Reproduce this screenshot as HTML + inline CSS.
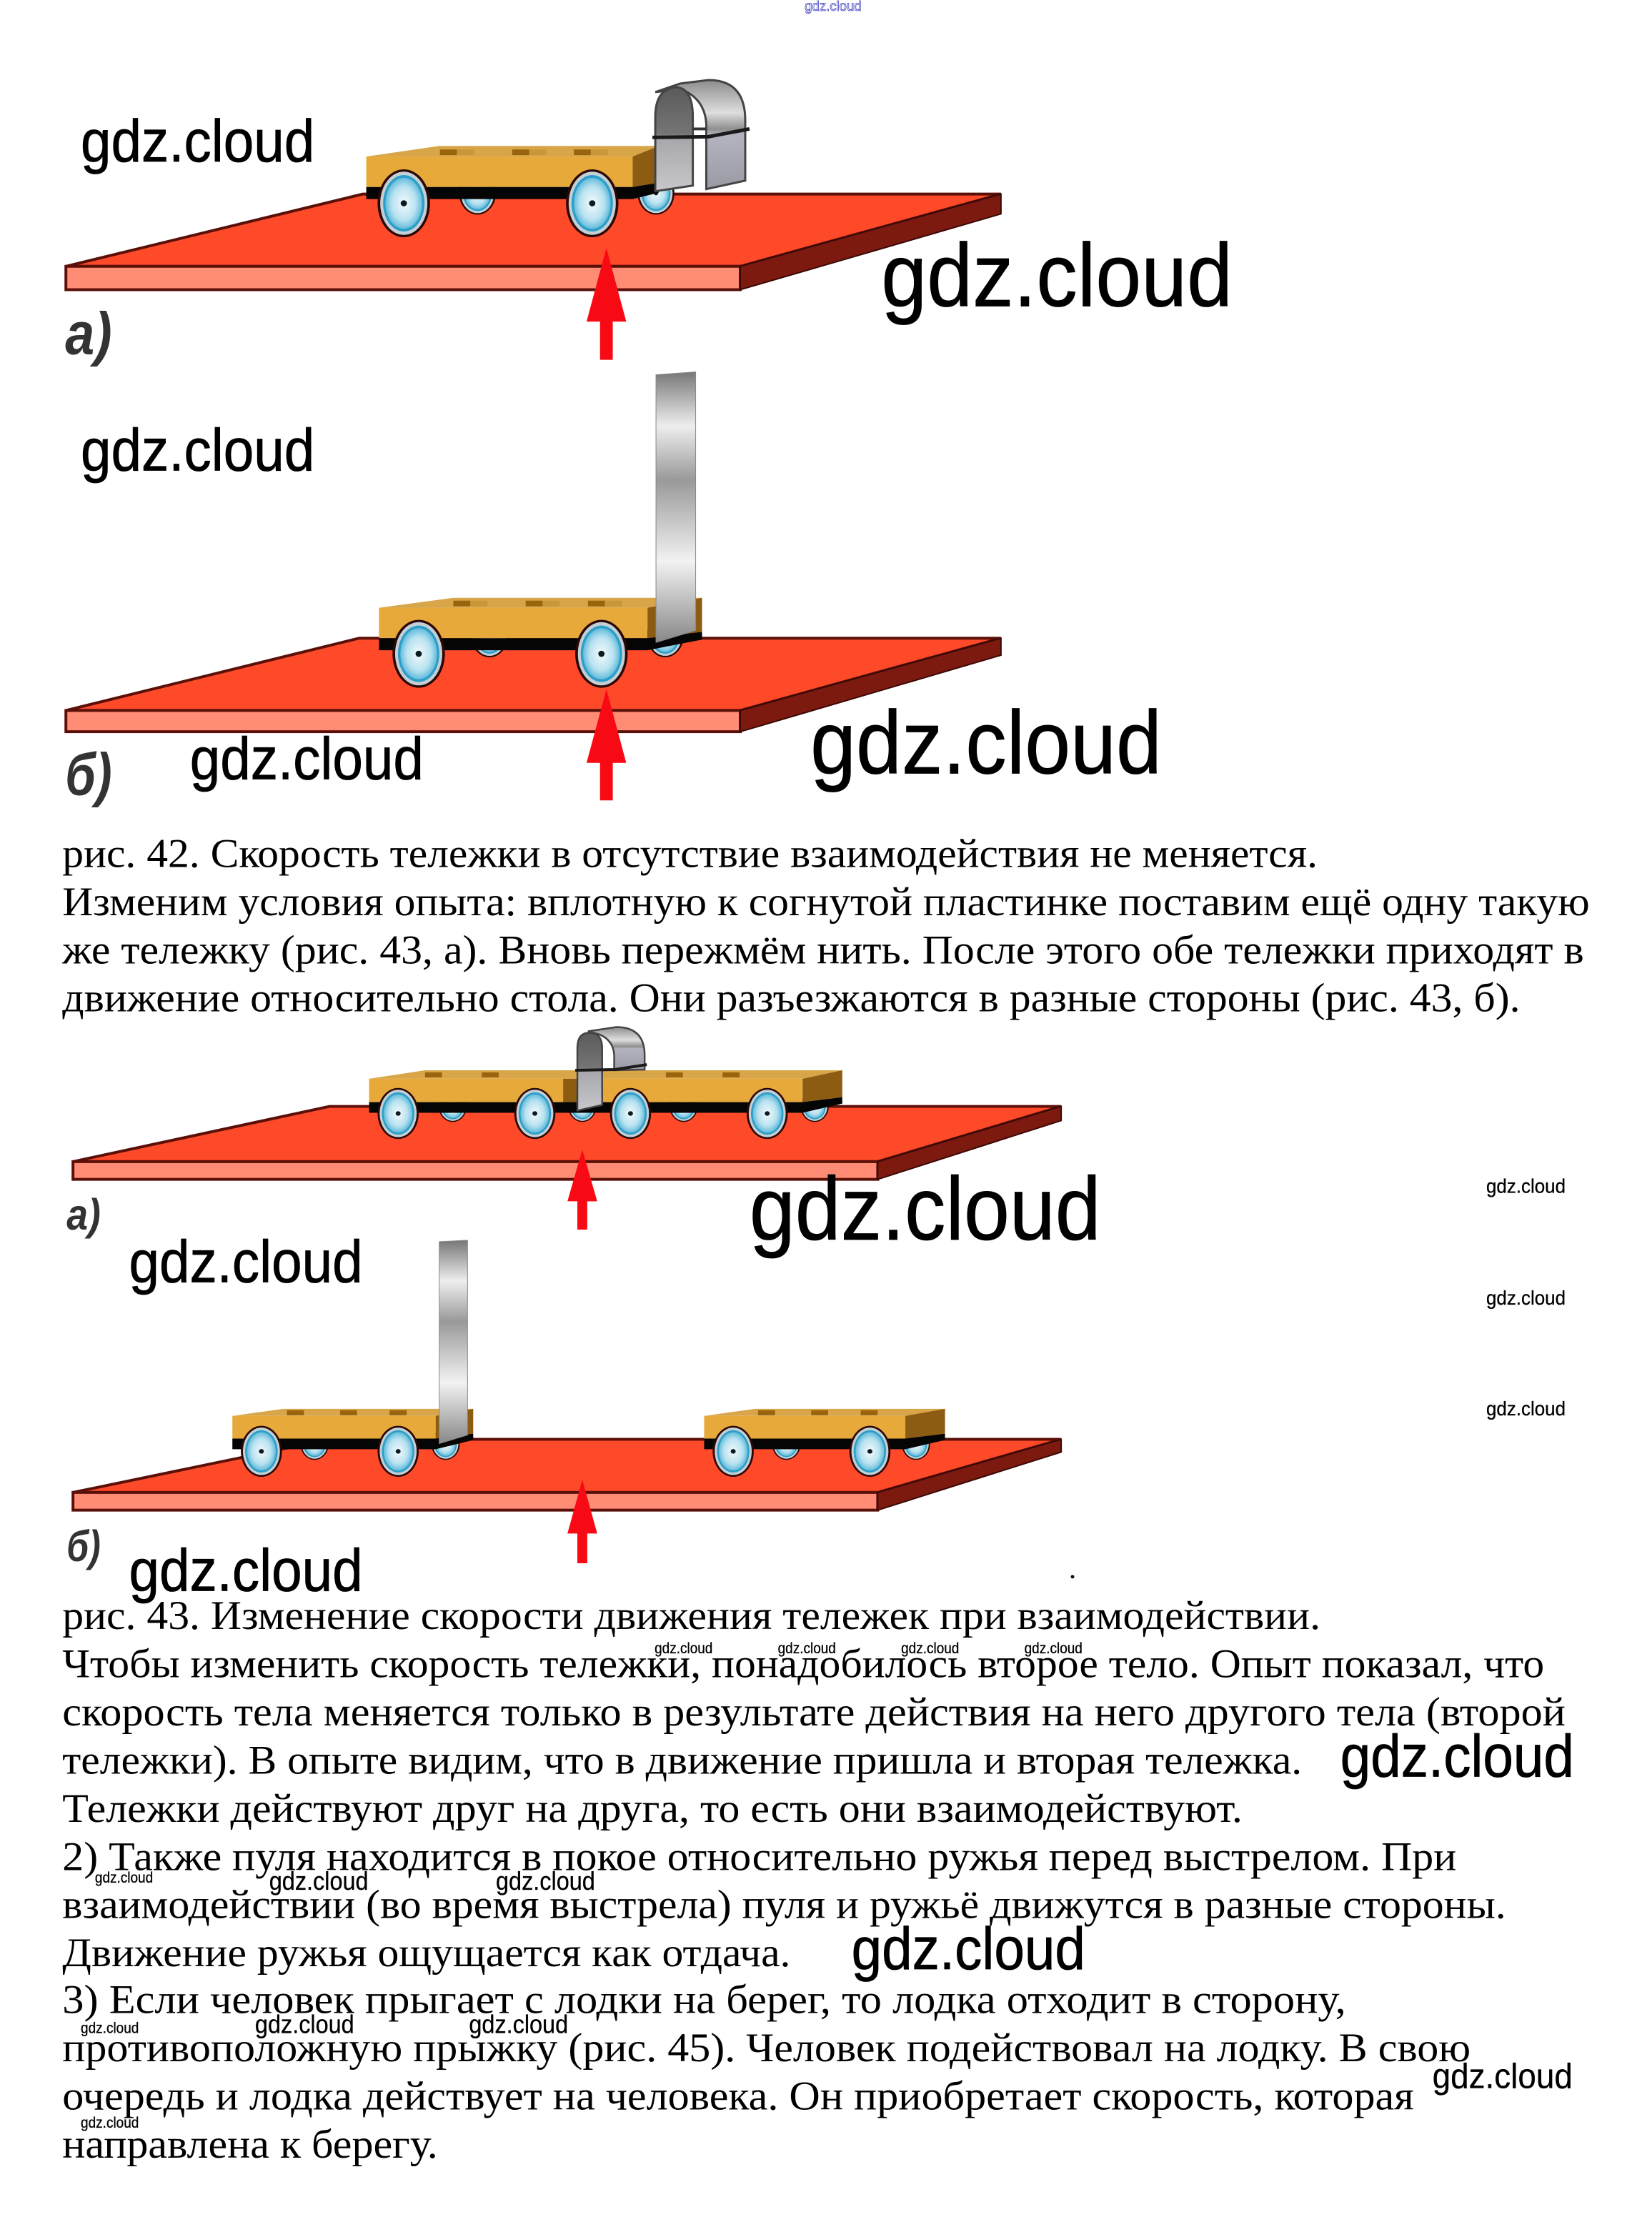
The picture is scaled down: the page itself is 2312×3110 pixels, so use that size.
<!DOCTYPE html>
<html lang="ru"><head><meta charset="utf-8"><title>рис. 42-43</title>
<style>
html,body{margin:0;padding:0;background:#fff}
svg{display:block}
.t{font-family:"Liberation Serif",serif;font-size:58px;fill:#000}
.w{font-family:"Liberation Sans",sans-serif;fill:#000;stroke:#000;stroke-width:.8}
.l{font-family:"Liberation Sans",sans-serif;font-style:italic;font-weight:bold;fill:#333}
</style></head><body>
<svg xmlns="http://www.w3.org/2000/svg" width="2312" height="3110" viewBox="0 0 2332 3137">
<defs>
<radialGradient id="wg" cx=".5" cy=".5" r=".6"><stop offset="0" stop-color="#f4fafc"/><stop offset=".55" stop-color="#b8e2f0"/><stop offset="1" stop-color="#35a6cf"/></radialGradient>
<linearGradient id="sv" x1="0" y1="0" x2="0" y2="1"><stop offset="0" stop-color="#777"/><stop offset=".2" stop-color="#eee"/><stop offset=".4" stop-color="#999"/><stop offset=".7" stop-color="#f2f2f2"/><stop offset="1" stop-color="#888"/></linearGradient>
<linearGradient id="a1" x1="0" y1="0" x2="0" y2="1"><stop offset="0" stop-color="#5a5a5a"/><stop offset=".45" stop-color="#757575"/><stop offset=".5" stop-color="#a8a8ac"/><stop offset="1" stop-color="#c8c8cc"/></linearGradient>
<linearGradient id="a2" x1="0" y1="0" x2="0" y2="1"><stop offset="0" stop-color="#8c8c8c"/><stop offset=".3" stop-color="#dedede"/><stop offset=".45" stop-color="#8e8e8e"/><stop offset=".5" stop-color="#b4b4c0"/><stop offset="1" stop-color="#9a9aa4"/></linearGradient>
<g id="wh"><ellipse rx="1" ry="1" fill="#2a0808"/><ellipse rx=".9" ry=".93" fill="#c6d0d4"/><ellipse rx=".79" ry=".83" fill="#2b9fc9"/><ellipse rx=".7" ry=".75" fill="url(#wg)"/><ellipse rx=".12" ry=".09" fill="#0a1a20"/></g>
</defs>

<!-- FIG 42a -->
<polygon points="93,376 512,274 1413,274 1045,376" fill="#ff4a2a" stroke="#5a1008" stroke-width="4"/>
<rect x="93" y="376" width="952" height="33" fill="#ff8c74" stroke="#5a1008" stroke-width="4"/>
<polygon points="1045,376 1413,274 1413,302 1045,409" fill="#7c1a10" stroke="#3a0806" stroke-width="2"/>
<use href="#wh" transform="translate(674,273) scale(26,30)"/>
<use href="#wh" transform="translate(926,273) scale(26,30)"/>
<polygon points="517,221 620,206 930,206 893,221" fill="#d8a548"/>
<rect x="621" y="211" width="24" height="8" fill="#9a640e"/><rect x="645" y="211" width="24" height="8" fill="#c89838"/><rect x="723" y="211" width="24" height="8" fill="#9a640e"/><rect x="747" y="211" width="24" height="8" fill="#c89838"/><rect x="810" y="211" width="24" height="8" fill="#9a640e"/><rect x="834" y="211" width="24" height="8" fill="#c89838"/>
<rect x="517" y="221" width="376" height="43" fill="#e6a93a"/>
<polygon points="893,221 930,206 930,258 893,264" fill="#8c5c12"/>
<polygon points="517,264 893,264 930,258 930,272 893,281 517,281" fill="#050505"/>
<use href="#wh" transform="translate(570,287) scale(37,48)"/>
<use href="#wh" transform="translate(836,287) scale(37,48)"/>
<path d="M997,267 L997,175 Q995,140 962,126 L925,130 L960,118 L1000,113 Q1052,113 1052,170 L1052,255 Z" fill="url(#a2)" stroke="#444" stroke-width="3"/>
<path d="M925,270 L925,165 Q925,125 955,123 Q978,125 978,165 L978,262 Z" fill="url(#a1)" stroke="#444" stroke-width="3"/>
<path d="M921,194 L1000,193 L1058,182" fill="none" stroke="#1a1a1a" stroke-width="5"/>
<line x1="978" y1="182" x2="997" y2="182" stroke="#333" stroke-width="4"/>
<polygon points="856,350 884,454 865,454 865,508 847,508 847,454 828,454" fill="#f80a14"/>
<text class="l" x="92" y="500" font-size="84" textLength="66" lengthAdjust="spacingAndGlyphs">а)</text>

<!-- FIG 42b -->
<polygon points="93,1003 507,901 1413,901 1045,1003" fill="#ff4a2a" stroke="#5a1008" stroke-width="4"/>
<rect x="93" y="1003" width="952" height="30" fill="#ff8c74" stroke="#5a1008" stroke-width="4"/>
<polygon points="1045,1003 1413,901 1413,925 1045,1033" fill="#7c1a10" stroke="#3a0806" stroke-width="2"/>
<use href="#wh" transform="translate(691,898) scale(26,30)"/>
<use href="#wh" transform="translate(939,898) scale(26,30)"/>
<polygon points="535,858 640,844 991,844 914,858" fill="#d8a548"/>
<rect x="640" y="848" width="24" height="8" fill="#9a640e"/><rect x="664" y="848" width="24" height="8" fill="#c89838"/><rect x="742" y="848" width="24" height="8" fill="#9a640e"/><rect x="766" y="848" width="24" height="8" fill="#c89838"/><rect x="830" y="848" width="24" height="8" fill="#9a640e"/><rect x="854" y="848" width="24" height="8" fill="#c89838"/>
<rect x="535" y="858" width="379" height="43" fill="#e6a93a"/>
<polygon points="914,858 991,844 991,892 914,901" fill="#8c5c12"/>
<polygon points="535,901 914,901 991,892 991,903 914,918 535,918" fill="#050505"/>
<use href="#wh" transform="translate(591,923) scale(37,48)"/>
<use href="#wh" transform="translate(849,923) scale(37,48)"/>
<polygon points="926,529 982,525 982,890 926,907" fill="url(#sv)" stroke="#888" stroke-width="1"/>
<polygon points="856,973 884,1077 865,1077 865,1130 847,1130 847,1077 828,1077" fill="#f80a14"/>
<text class="l" x="92" y="1122" font-size="84" textLength="66" lengthAdjust="spacingAndGlyphs">б)</text>

<!-- FIG 43a -->
<polygon points="103,1640 465,1562 1498,1562 1239,1640" fill="#ff4a2a" stroke="#5a1008" stroke-width="4"/>
<rect x="103" y="1640" width="1136" height="25" fill="#ff8c74" stroke="#5a1008" stroke-width="4"/>
<polygon points="1239,1640 1498,1562 1498,1582 1239,1665" fill="#7c1a10" stroke="#3a0806" stroke-width="2"/>
<use href="#wh" transform="translate(639,1562) scale(20,22)"/>
<use href="#wh" transform="translate(822,1562) scale(20,22)"/>
<use href="#wh" transform="translate(965,1562) scale(20,22)"/>
<use href="#wh" transform="translate(1150,1562) scale(20,22)"/>
<polygon points="521,1523 600,1511 1189,1511 1133,1523" fill="#d8a548"/>
<rect x="600" y="1514" width="24" height="7" fill="#9a640e"/><rect x="680" y="1514" width="24" height="7" fill="#9a640e"/><rect x="940" y="1514" width="24" height="7" fill="#9a640e"/><rect x="1020" y="1514" width="24" height="7" fill="#9a640e"/>
<rect x="521" y="1523" width="612" height="33" fill="#e6a93a"/>
<rect x="795" y="1523" width="20" height="33" fill="#8c5c12"/>
<polygon points="1133,1523 1189,1511 1189,1549 1133,1556" fill="#8c5c12"/>
<polygon points="521,1556 1133,1556 1189,1549 1189,1558 1133,1571 521,1571" fill="#050505"/>
<path d="M867,1511 L867,1490 Q866,1468 845,1460 L830,1456 L870,1450 Q910,1450 910,1490 L910,1510 Z" fill="url(#a2)" stroke="#444" stroke-width="2.5"/>
<path d="M815,1568 L815,1480 Q815,1458 832,1458 Q850,1458 850,1480 L850,1560 Z" fill="url(#a1)" stroke="#444" stroke-width="2.5"/>
<path d="M812,1511 L868,1510 L913,1503" fill="none" stroke="#1a1a1a" stroke-width="4"/>
<use href="#wh" transform="translate(562,1572) scale(29,36)"/>
<use href="#wh" transform="translate(755,1572) scale(29,36)"/>
<use href="#wh" transform="translate(890,1572) scale(29,36)"/>
<use href="#wh" transform="translate(1083,1572) scale(29,36)"/>
<polygon points="822,1623 843,1696 829,1696 829,1736 815,1736 815,1696 801,1696" fill="#f80a14"/>
<text class="l" x="94" y="1736" font-size="62" textLength="48" lengthAdjust="spacingAndGlyphs">а)</text>

<!-- FIG 43b -->
<polygon points="103,2107 465,2032 1498,2032 1239,2107" fill="#ff4a2a" stroke="#5a1008" stroke-width="4"/>
<rect x="103" y="2107" width="1136" height="25" fill="#ff8c74" stroke="#5a1008" stroke-width="4"/>
<polygon points="1239,2107 1498,2032 1498,2050 1239,2132" fill="#7c1a10" stroke="#3a0806" stroke-width="2"/>
<use href="#wh" transform="translate(444,2039) scale(20,22)"/>
<use href="#wh" transform="translate(629,2039) scale(20,22)"/>
<use href="#wh" transform="translate(1110,2039) scale(20,22)"/>
<use href="#wh" transform="translate(1293,2039) scale(20,22)"/>
<polygon points="328,1999 400,1989 668,1989 615,1999" fill="#d8a548"/>
<rect x="405" y="1991" width="24" height="7" fill="#9a640e"/><rect x="480" y="1991" width="24" height="7" fill="#9a640e"/><rect x="550" y="1991" width="24" height="7" fill="#9a640e"/>
<rect x="328" y="1999" width="287" height="32" fill="#e6a93a"/>
<polygon points="615,1999 668,1989 668,2024 615,2031" fill="#8c5c12"/>
<polygon points="328,2031 615,2031 668,2024 668,2033 615,2046 328,2046" fill="#050505"/>
<polygon points="994,1999 1066,1989 1334,1989 1278,1999" fill="#d8a548"/>
<rect x="1070" y="1991" width="24" height="7" fill="#9a640e"/><rect x="1145" y="1991" width="24" height="7" fill="#9a640e"/><rect x="1215" y="1991" width="24" height="7" fill="#9a640e"/>
<rect x="994" y="1999" width="284" height="32" fill="#e6a93a"/>
<polygon points="1278,1999 1334,1989 1334,2024 1278,2031" fill="#8c5c12"/>
<polygon points="994,2031 1278,2031 1334,2024 1334,2033 1278,2046 994,2046" fill="#050505"/>
<use href="#wh" transform="translate(369,2049) scale(29,36)"/>
<use href="#wh" transform="translate(562,2049) scale(29,36)"/>
<use href="#wh" transform="translate(1035,2049) scale(29,36)"/>
<use href="#wh" transform="translate(1228,2049) scale(29,36)"/>
<polygon points="620,1753 660,1751 660,2026 620,2038" fill="url(#sv)" stroke="#888" stroke-width="1"/>
<polygon points="822,2089 843,2165 829,2165 829,2207 815,2207 815,2165 801,2165" fill="#f80a14"/>
<text class="l" x="94" y="2204" font-size="62" textLength="48" lengthAdjust="spacingAndGlyphs">б)</text>
<circle cx="1514" cy="2226" r="2.5" fill="#111"/>

<!-- BODY TEXT -->
<text class="t" x="88" y="1224" textLength="1772" lengthAdjust="spacingAndGlyphs">рис. 42. Скорость тележки в отсутствие взаимодействия не меняется.</text>
<text class="t" x="88" y="1292" textLength="2156" lengthAdjust="spacingAndGlyphs">Изменим условия опыта: вплотную к согнутой пластинке поставим ещё одну такую</text>
<text class="t" x="88" y="1360" textLength="2148" lengthAdjust="spacingAndGlyphs">же тележку (рис. 43, а). Вновь пережмём нить. После этого обе тележки приходят в</text>
<text class="t" x="88" y="1428" textLength="2058" lengthAdjust="spacingAndGlyphs">движение относительно стола. Они разъезжаются в разные стороны (рис. 43, б).</text>
<text class="t" x="88" y="2300" textLength="1776" lengthAdjust="spacingAndGlyphs">рис. 43. Изменение скорости движения тележек при взаимодействии.</text>
<text class="t" x="88" y="2368" textLength="2092" lengthAdjust="spacingAndGlyphs">Чтобы изменить скорость тележки, понадобилось второе тело. Опыт показал, что</text>
<text class="t" x="88" y="2436" textLength="2122" lengthAdjust="spacingAndGlyphs">скорость тела меняется только в результате действия на него другого тела (второй</text>
<text class="t" x="88" y="2504" textLength="1750" lengthAdjust="spacingAndGlyphs">тележки). В опыте видим, что в движение пришла и вторая тележка.</text>
<text class="t" x="88" y="2572" textLength="1666" lengthAdjust="spacingAndGlyphs">Тележки действуют друг на друга, то есть они взаимодействуют.</text>
<text class="t" x="88" y="2640" textLength="1968" lengthAdjust="spacingAndGlyphs">2) Также пуля находится в покое относительно ружья перед выстрелом. При</text>
<text class="t" x="88" y="2708" textLength="2038" lengthAdjust="spacingAndGlyphs">взаимодействии (во время выстрела) пуля и ружьё движутся в разные стороны.</text>
<text class="t" x="88" y="2776" textLength="1028" lengthAdjust="spacingAndGlyphs">Движение ружья ощущается как отдача.</text>
<text class="t" x="88" y="2842" textLength="1812" lengthAdjust="spacingAndGlyphs">3) Если человек прыгает с лодки на берег, то лодка отходит в сторону,</text>
<text class="t" x="88" y="2910" textLength="1988" lengthAdjust="spacingAndGlyphs">противоположную прыжку (рис. 45). Человек подействовал на лодку. В свою</text>
<text class="t" x="88" y="2978" textLength="1908" lengthAdjust="spacingAndGlyphs">очередь и лодка действует на человека. Он приобретает скорость, которая</text>
<text class="t" x="88" y="3046" textLength="530" lengthAdjust="spacingAndGlyphs">направлена к берегу.</text>

<!-- WATERMARKS -->
<text x="1136" y="15" font-family="Liberation Sans, sans-serif" font-size="20" fill="#fff" stroke="#3a3ac0" stroke-width=".8" textLength="80" lengthAdjust="spacingAndGlyphs">gdz.cloud</text>
<g class="w">
<text x="114" y="228" font-size="84" textLength="330" lengthAdjust="spacingAndGlyphs">gdz.cloud</text>
<text x="114" y="664" font-size="84" textLength="330" lengthAdjust="spacingAndGlyphs">gdz.cloud</text>
<text x="268" y="1100" font-size="84" textLength="330" lengthAdjust="spacingAndGlyphs">gdz.cloud</text>
<text x="182" y="1810" font-size="84" textLength="330" lengthAdjust="spacingAndGlyphs">gdz.cloud</text>
<text x="182" y="2246" font-size="84" textLength="330" lengthAdjust="spacingAndGlyphs">gdz.cloud</text>
<text x="1892" y="2508" font-size="84" textLength="330" lengthAdjust="spacingAndGlyphs">gdz.cloud</text>
<text x="1202" y="2780" font-size="84" textLength="330" lengthAdjust="spacingAndGlyphs">gdz.cloud</text>
<text x="1244" y="432" font-size="126" textLength="496" lengthAdjust="spacingAndGlyphs">gdz.cloud</text>
<text x="1144" y="1092" font-size="126" textLength="496" lengthAdjust="spacingAndGlyphs">gdz.cloud</text>
<text x="1058" y="1750" font-size="126" textLength="496" lengthAdjust="spacingAndGlyphs">gdz.cloud</text>
<g style="stroke-width:.3">
<text x="2098" y="1684" font-size="28" textLength="112" lengthAdjust="spacingAndGlyphs">gdz.cloud</text>
<text x="2098" y="1842" font-size="28" textLength="112" lengthAdjust="spacingAndGlyphs">gdz.cloud</text>
<text x="2098" y="1998" font-size="28" textLength="112" lengthAdjust="spacingAndGlyphs">gdz.cloud</text>
<text x="2022" y="2948" font-size="50" textLength="198" lengthAdjust="spacingAndGlyphs">gdz.cloud</text>
<text x="924" y="2334" font-size="21" textLength="82" lengthAdjust="spacingAndGlyphs">gdz.cloud</text>
<text x="1098" y="2334" font-size="21" textLength="82" lengthAdjust="spacingAndGlyphs">gdz.cloud</text>
<text x="1272" y="2334" font-size="21" textLength="82" lengthAdjust="spacingAndGlyphs">gdz.cloud</text>
<text x="1446" y="2334" font-size="21" textLength="82" lengthAdjust="spacingAndGlyphs">gdz.cloud</text>
<text x="134" y="2658" font-size="21" textLength="82" lengthAdjust="spacingAndGlyphs">gdz.cloud</text>
<text x="380" y="2668" font-size="36" textLength="140" lengthAdjust="spacingAndGlyphs">gdz.cloud</text>
<text x="700" y="2668" font-size="36" textLength="140" lengthAdjust="spacingAndGlyphs">gdz.cloud</text>
<text x="114" y="2870" font-size="21" textLength="82" lengthAdjust="spacingAndGlyphs">gdz.cloud</text>
<text x="360" y="2870" font-size="36" textLength="140" lengthAdjust="spacingAndGlyphs">gdz.cloud</text>
<text x="662" y="2870" font-size="36" textLength="140" lengthAdjust="spacingAndGlyphs">gdz.cloud</text>
<text x="114" y="3004" font-size="21" textLength="82" lengthAdjust="spacingAndGlyphs">gdz.cloud</text>
</g>
</g>
</svg>
</body></html>
